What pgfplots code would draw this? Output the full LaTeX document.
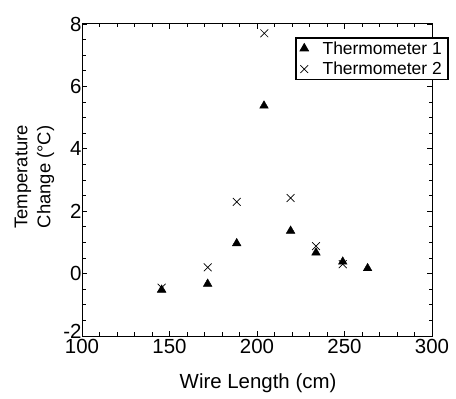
\documentclass[border=0pt]{standalone}
\usepackage{pgfplots}
\pgfplotsset{compat=1.18}
\usepackage{fontspec}
\setmainfont{Liberation Sans}
\begin{document}
\begin{tikzpicture}
\path[use as bounding box] (0,0) rectangle (456bp,399bp);
\begin{axis}[
  at={(82bp,63bp)}, anchor=south west,
  width=350bp, height=312bp, scale only axis,
  xmin=100, xmax=300, ymin=-2, ymax=8,
  xtick={100,150,...,300}, ytick={-2,0,...,8},
  yticklabels={\raisebox{9bp}{-2},0,2,4,6,8},
  minor x tick num=4, minor y tick num=3,
  tick align=inside, major tick length=5bp, minor tick length=3.5bp,
  axis line style={line width=1bp},
  every tick/.style={black, line width=0.8bp},
  /pgf/number format/assume math mode=true,
  ticklabel style={font=\fontsize{20.5}{24}\selectfont},
  xticklabel style={yshift=0bp},
  yticklabel style={xshift=3bp},
  xlabel={Wire Length (cm)},
  xlabel style={font=\fontsize{20.5}{24}\selectfont, at={(axis description cs:0.503,-0.15)}, anchor=center},
  ylabel={Temperature\\Change (°C)},
  ylabel style={font=\fontsize{18.5}{23}\selectfont, align=center, at={(axis description cs:-0.136,0.51)}, anchor=center},
  legend style={at={(0.609,0.958)}, anchor=north west, draw=black, fill=white, line width=1.6bp,
    font=\fontsize{17.5}{20}\selectfont, row sep=2.5bp, column sep=12bp, inner xsep=4bp, inner ysep=1.5bp},
  legend image post style={line width=0.7bp},
  legend cell align=left,
]
\addplot[only marks, mark=triangle*, mark size=5bp, black, mark options={fill=black}] coordinates {
 (145.5,-0.52) (171.8,-0.33) (188.4,0.97) (204,5.38) (219.2,1.37) (233.7,0.67) (249,0.38) (263.2,0.17)
};
\addlegendentry{Thermometer 1}
\addplot[only marks, mark=x, mark size=5.5bp, black, line width=0.7bp] coordinates {
 (145.5,-0.45) (171.8,0.2) (188.4,2.3) (204.2,7.7) (219.2,2.42) (233.7,0.88) (249,0.3)
};
\addlegendentry{Thermometer 2}
\end{axis}
\end{tikzpicture}
\end{document}
